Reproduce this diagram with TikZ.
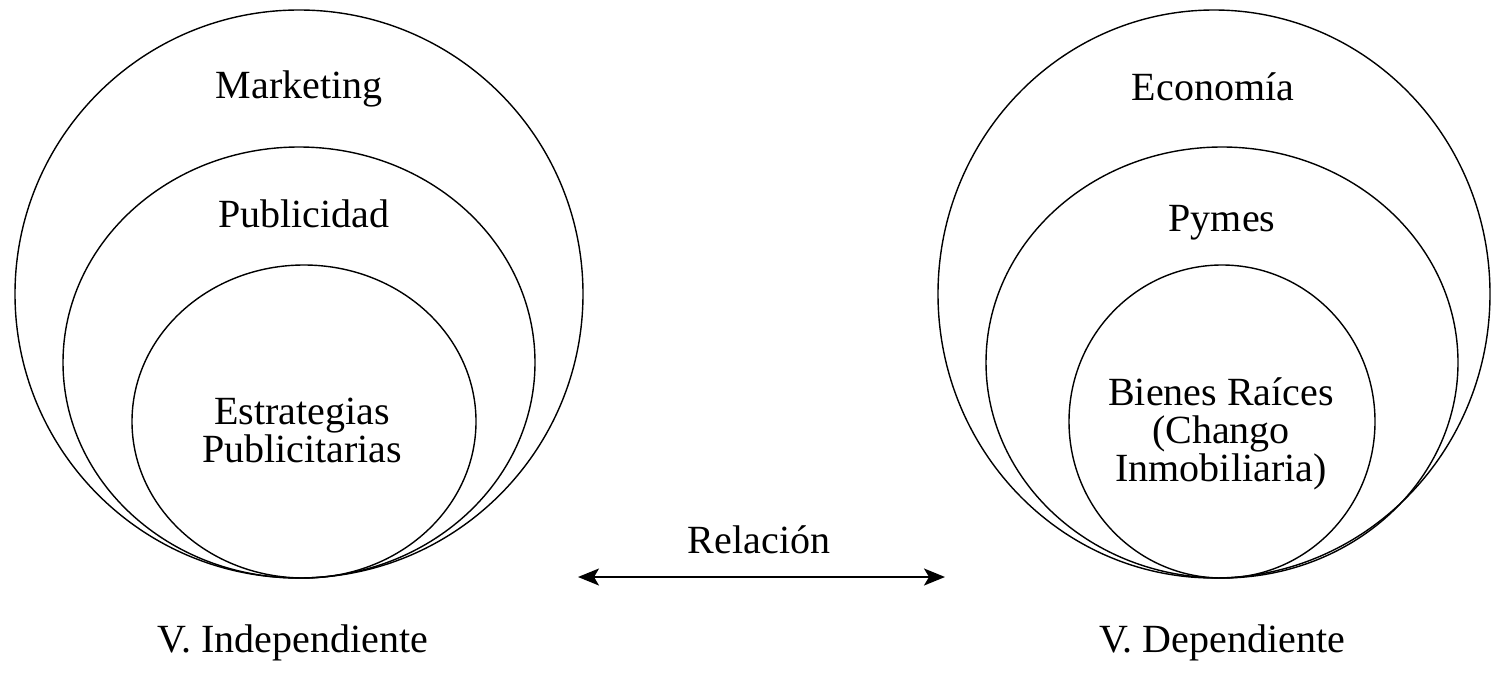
\documentclass[tikz,border=0pt]{standalone}
\usepackage{fontspec}
\setmainfont{Liberation Serif}
\usetikzlibrary{arrows.meta}

\begin{document}
\begin{tikzpicture}[x=1pt, y=-1pt, >={Stealth[length=21pt,width=17pt,inset=5pt]},
    lbl/.style={font=\fontsize{40}{38}\selectfont, align=center, inner sep=0pt, anchor=base}]
    \useasboundingbox (0,0) rectangle (1491,672);

    % circulos anidados: \drawNested{cx}{rx1}{cx2}{rx2}{cx3}{rx3}, todos tocan el fondo en y=578
    \newcommand{\drawNested}[6]{
      \draw[line width=1.4pt] (#1,294) ellipse [x radius=#2, y radius=284];      % exterior
      \draw[line width=1.4pt] (#3,362.5) ellipse [x radius=#4, y radius=215.5]; % medio
      \draw[line width=1.4pt] (#5,421.5) ellipse [x radius=#6, y radius=156.5]; % interior
    }

    % variable independiente
    \drawNested{299}{284}{299}{236}{304}{172}
    \node[lbl] (mkt) at (299,98) {Marketing};
    \node[lbl] (pub) at (304,227) {Publicidad};
    \node[lbl] (est) at (302,462) {Estrategias\\Publicitarias}; % base = ultima linea

    % variable dependiente
    \drawNested{1214}{276}{1222}{236}{1222}{153}
    \node[lbl] (eco) at (1213,100) {Economía};
    \node[lbl] (pym) at (1222,231) {Pymes};
    \node[lbl] (bie) at (1221,481) {Bienes Raíces\\(Chango\\Inmobiliaria)};

    % relacion entre ambas
    \coordinate (izq) at (578,577);
    \coordinate (der) at (945,577);
    \draw[<->, line width=2pt] (izq) -- (der);
    \node[lbl] (rel) at (759,553) {Relación};

    \node[lbl] (vi) at (293,652) {V. Independiente};
    \node[lbl] (vd) at (1222,652) {V. Dependiente};
\end{tikzpicture}
\end{document}
